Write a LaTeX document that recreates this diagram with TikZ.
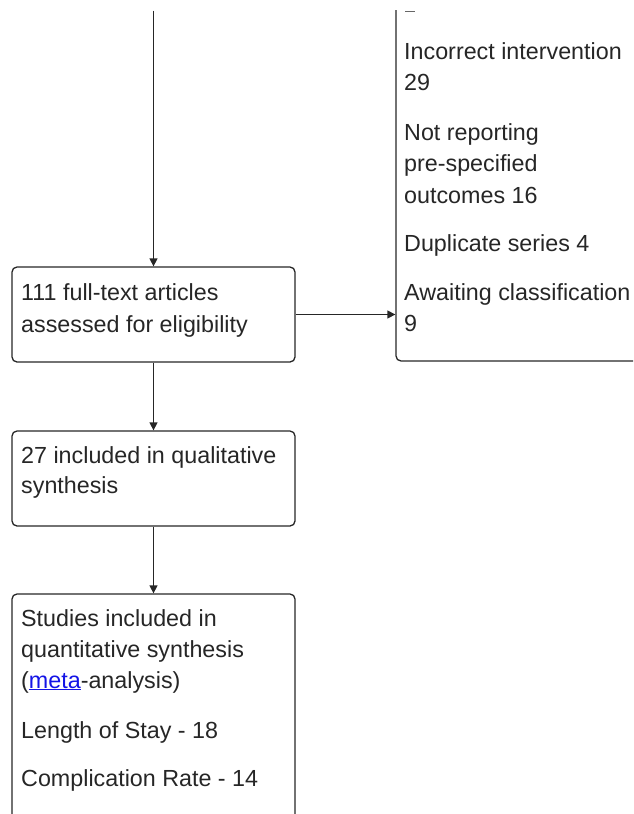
\documentclass[tikz,border=0pt]{standalone}
\usepackage{fontspec}
\setmainfont{Liberation Sans}
\usetikzlibrary{arrows.meta}
\definecolor{linkblue}{RGB}{20,20,230}
\begin{document}
\begin{tikzpicture}[x=1pt,y=-1pt,
  box/.style={draw,line width=1.3pt,rounded corners=5pt,inner sep=0pt,draw=black!85},
  conn/.style={line width=1.4pt,draw=black!85,-{Triangle[length=8pt,width=8pt]}},
  txt/.style={anchor=base west,inner sep=0pt,text=black!85,font=\fontsize{23.3}{28}\selectfont}]
\useasboundingbox (0,0) rectangle (633,814);
\clip (0,0) rectangle (633,814);
\begin{scope}
\clip (0,10.5) rectangle (633,814);
% boxes
\node[box,minimum width=283pt,minimum height=95pt] (b1) at (153.5,314.5) {};
\node[box,minimum width=283pt,minimum height=95pt] (b2) at (153.5,478.5) {};
\node[box,minimum width=283pt,minimum height=266pt] (b3) at (153.5,727) {};
\node[box,minimum width=304pt,minimum height=411pt] (rb) at (548,155.5) {};
\coordinate (top) at (153.5,10.5);
% connectors
\draw[conn] (top) -- (b1.north);
\draw[conn] (b1.south) -- (b2.north);
\draw[conn] (b2.south) -- (b3.north);
\draw[conn] (b1.east) -- (b1.east -| rb.west);
% remnant of cut-off text
\draw[line width=1.6pt,black!60] (405,11.3) -- (415,11.3);
% right box text
\node[txt] (r1) at (404,59) {Incorrect intervention};
\node[txt] (r2) at (404,90) {29};
\node[txt] (r3) at (404,140) {Not reporting};
\node[txt] (r4) at (404,171) {pre-specified};
\node[txt] (r5) at (404,203) {outcomes 16};
\node[txt] (r6) at (404,251) {Duplicate series 4};
\node[txt] (r7) at (404,300) {Awaiting classification};
\node[txt] (r8) at (404,331) {9};
% left texts
\node[txt] (a1) at (21,300) {111 full-text articles};
\node[txt] (a2) at (21,332) {assessed for eligibility};
\node[txt] (c1) at (21,463) {27 included in qualitative};
\node[txt] (c2) at (21,493) {synthesis};
\node[txt] (d1) at (21,626) {Studies included in};
\node[txt] (d2) at (21,657) {quantitative synthesis};
\node[txt] (d3) at (21,688) {(\textcolor{linkblue}{\underline{meta}}-analysis)};
\node[txt] (d4) at (21,738) {Length of Stay - 18};
\node[txt] (d5) at (21,786) {Complication Rate - 14};
\end{scope}
\end{tikzpicture}
\end{document}
